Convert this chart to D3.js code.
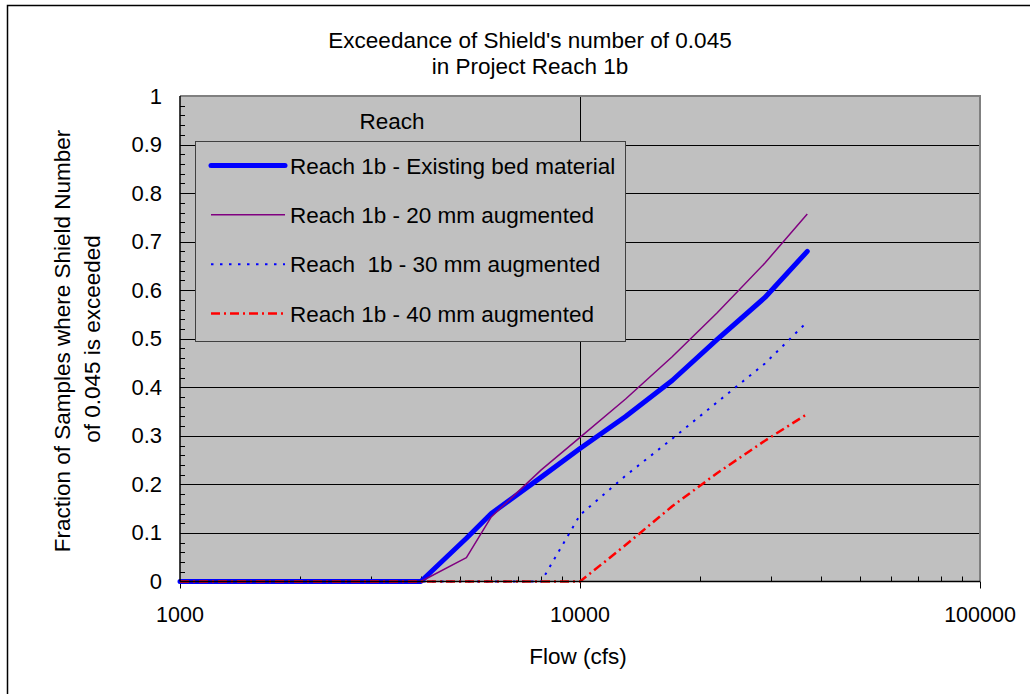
<!DOCTYPE html>
<html>
<head>
<meta charset="utf-8">
<script src="https://cdn.jsdelivr.net/npm/d3@7"></script>
<style>
  html, body { margin: 0; padding: 0; background: #fff; }
  svg { display: block; font-family: "Liberation Sans", Arial, sans-serif; }
  svg text { white-space: pre; }
</style>
</head>
<body>
<svg id="chart" width="1030" height="694"></svg>
<script>
// Flow values (cfs) shared by every series
const flows = [1000, 2000, 3000, 4000, 5200, 6000, 8000, 10000, 13000, 17000, 22000, 29000, 37000];

// Fraction of samples where Shield's number of 0.045 is exceeded
const existingBed = [0, 0, 0, 0, 0.089, 0.140, 0.215, 0.274, 0.340, 0.414, 0.498, 0.585, 0.680];
const aug20mm     = [0, 0, 0, 0, 0.049, 0.133, 0.230, 0.297, 0.376, 0.463, 0.553, 0.656, 0.757];
const aug30mm     = [0, 0, 0, 0, 0, 0, 0, 0.137, 0.218, 0.294, 0.369, 0.449, 0.535];
const aug40mm     = [0, 0, 0, 0, 0, 0, 0, 0, 0.075, 0.155, 0.223, 0.290, 0.345];

const seriesNames = [
  "Reach 1b - Existing bed material",
  "Reach 1b - 20 mm augmented",
  "Reach  1b - 30 mm augmented",
  "Reach 1b - 40 mm augmented"
];

const xTickValues = [1000, 10000, 100000];
const yTickValues = [0, 0.1, 0.2, 0.3, 0.4, 0.5, 0.6, 0.7, 0.8, 0.9, 1];

const series = [
  { name: seriesNames[0], values: existingBed, color: "#0000FF", width: 5,   dash: null,      cap: "round" },
  { name: seriesNames[1], values: aug20mm,     color: "#800080", width: 1.5, dash: null,      cap: "butt" },
  { name: seriesNames[2], values: aug30mm,     color: "#0000FF", width: 2,   dash: "2.5,6.5", cap: "butt" },
  { name: seriesNames[3], values: aug40mm,     color: "#FF0000", width: 2.5, dash: "9,4,2,4", cap: "butt" }
];

const svg = d3.select("#chart");
const plot = { left: 180, right: 980, top: 96, bottom: 581.5 };
const FS = 22.5;

const x = d3.scaleLog().domain([1000, 100000]).range([plot.left, plot.right]);
const y = d3.scaleLinear().domain([0, 1]).range([plot.bottom, plot.top]);

// Outer chart frame
svg.append("rect")
  .attr("x", 7.5).attr("y", 5.5)
  .attr("width", 1040).attr("height", 700)
  .attr("fill", "#fff").attr("stroke", "#000").attr("stroke-width", 1.5);

// Plot background
svg.append("rect")
  .attr("x", plot.left).attr("y", plot.top)
  .attr("width", plot.right - plot.left).attr("height", plot.bottom - plot.top)
  .attr("fill", "#C0C0C0");

// Horizontal gridlines
svg.append("g")
  .selectAll("line")
  .data(yTickValues.filter(v => v > 0 && v < 1))
  .join("line")
  .attr("x1", plot.left).attr("x2", plot.right)
  .attr("y1", d => Math.round(y(d)) + 0.5).attr("y2", d => Math.round(y(d)) + 0.5)
  .attr("stroke", "#000").attr("stroke-width", 1);

// Vertical gridline at the middle decade
svg.append("line")
  .attr("x1", Math.round(x(10000)) + 0.5).attr("x2", Math.round(x(10000)) + 0.5)
  .attr("y1", plot.top).attr("y2", plot.bottom)
  .attr("stroke", "#000").attr("stroke-width", 1);

// Plot border on top and right
svg.append("path")
  .attr("d", `M${plot.left},${plot.top} H${plot.right} V${plot.bottom}`)
  .attr("fill", "none").attr("stroke", "#808080").attr("stroke-width", 2);

// Minor ticks on the y axis (inside)
const yMinor = d3.range(0, 1.0001, 0.02).filter(v => Math.abs(v * 10 - Math.round(v * 10)) > 1e-6);
svg.append("g")
  .selectAll("line")
  .data(yMinor)
  .join("line")
  .attr("x1", plot.left).attr("x2", plot.left + 5)
  .attr("y1", d => Math.round(y(d)) + 0.5).attr("y2", d => Math.round(y(d)) + 0.5)
  .attr("stroke", "#000").attr("stroke-width", 1);

// Minor ticks on the x axis (inside)
const xMinor = [];
[1000, 10000].forEach(dec => { for (let k = 2; k <= 9; k++) xMinor.push(dec * k); });
svg.append("g")
  .selectAll("line")
  .data(xMinor)
  .join("line")
  .attr("x1", d => Math.round(x(d)) + 0.5).attr("x2", d => Math.round(x(d)) + 0.5)
  .attr("y1", plot.bottom).attr("y2", plot.bottom - 5)
  .attr("stroke", "#000").attr("stroke-width", 1);

// Major ticks on the x axis (outside)
svg.append("g")
  .selectAll("line")
  .data(xTickValues)
  .join("line")
  .attr("x1", d => Math.round(x(d)) + 0.5).attr("x2", d => Math.round(x(d)) + 0.5)
  .attr("y1", plot.bottom).attr("y2", plot.bottom + 7)
  .attr("stroke", "#000").attr("stroke-width", 1);

// Series lines
const line = d3.line()
  .x((d, i) => x(flows[i]))
  .y(d => y(d));

series.forEach(s => {
  svg.append("path")
    .datum(s.values)
    .attr("d", line)
    .attr("fill", "none")
    .attr("stroke", s.color)
    .attr("stroke-width", s.width)
    .attr("stroke-linecap", s.cap)
    .attr("stroke-linejoin", "round")
    .attr("stroke-dasharray", s.dash);
});

// Axis lines
svg.append("line")
  .attr("x1", plot.left).attr("x2", plot.left)
  .attr("y1", plot.top).attr("y2", plot.bottom)
  .attr("stroke", "#000").attr("stroke-width", 1.5);
svg.append("line")
  .attr("x1", plot.left).attr("x2", plot.right)
  .attr("y1", plot.bottom).attr("y2", plot.bottom)
  .attr("stroke", "#000").attr("stroke-width", 1.5);

// Y tick labels
svg.append("g")
  .selectAll("text")
  .data(yTickValues)
  .join("text")
  .attr("x", 162)
  .attr("y", d => y(d) + 7.5)
  .attr("text-anchor", "end")
  .attr("font-size", 22)
  .text(d => d3.format("")(+d.toFixed(1)));

// X tick labels
svg.append("g")
  .selectAll("text")
  .data(xTickValues)
  .join("text")
  .attr("x", d => x(d))
  .attr("y", 622)
  .attr("text-anchor", "middle")
  .attr("font-size", 21.5)
  .text(d => String(d));

// Title
svg.append("text")
  .attr("x", 530).attr("y", 48)
  .attr("text-anchor", "middle").attr("font-size", FS)
  .text("Exceedance of Shield's number of 0.045");
svg.append("text")
  .attr("x", 530).attr("y", 74)
  .attr("text-anchor", "middle").attr("font-size", FS)
  .text("in Project Reach 1b");

// Axis titles
svg.append("text")
  .attr("x", 578).attr("y", 664)
  .attr("text-anchor", "middle").attr("font-size", FS)
  .text("Flow (cfs)");
svg.append("text")
  .attr("transform", "translate(70,341) rotate(-90)")
  .attr("text-anchor", "middle").attr("font-size", FS)
  .text("Fraction of Samples where Shield Number");
svg.append("text")
  .attr("transform", "translate(100,339) rotate(-90)")
  .attr("text-anchor", "middle").attr("font-size", FS)
  .text("of 0.045 is exceeded");

// Legend
svg.append("text")
  .attr("x", 392).attr("y", 129)
  .attr("text-anchor", "middle").attr("font-size", FS)
  .text("Reach");

const legend = svg.append("g");
legend.append("rect")
  .attr("x", 195.5).attr("y", 141.5)
  .attr("width", 430).attr("height", 200)
  .attr("fill", "#C0C0C0").attr("stroke", "#404040").attr("stroke-width", 1);

const rowY = d3.scalePoint().domain(seriesNames).range([165.5, 313.5]);

series.forEach(s => {
  const cy = rowY(s.name);
  legend.append("line")
    .attr("x1", 211).attr("x2", 285)
    .attr("y1", cy).attr("y2", cy)
    .attr("stroke", s.color)
    .attr("stroke-width", s.width)
    .attr("stroke-linecap", s.cap)
    .attr("stroke-dasharray", s.dash);
  legend.append("text")
    .attr("x", 290).attr("y", cy + 8)
    .attr("font-size", FS)
    .text(s.name);
});
</script>
</body>
</html>
